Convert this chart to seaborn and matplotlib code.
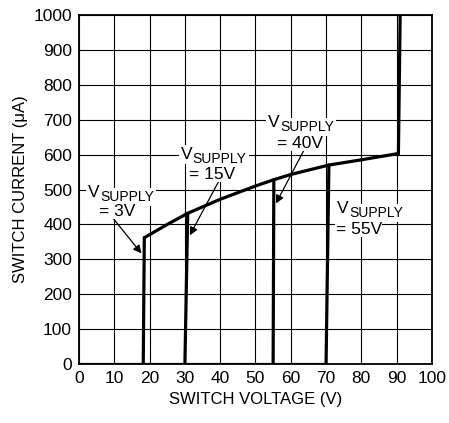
import matplotlib
matplotlib.use("Agg")
import matplotlib.pyplot as plt
import seaborn as sns

# ------------------------------------------------------------
# Data
# ------------------------------------------------------------
supply_labels = ["3V", "15V", "40V", "55V"]
step_x_bottom = [18.2, 30.0, 55.0, 70.0]
step_x_top = [18.5, 30.8, 55.2, 70.8]
step_y_top = [362, 432, 528, 570]

curve_x = [18.5, 25, 30.8, 40, 50, 55.2, 60, 70.8, 80, 90.5]
curve_y = [362, 400, 432, 472, 510, 528, 543, 570, 585, 603]

breakdown_x = [90.5, 91.0]
breakdown_y = [603, 1000]

floor_x = [0, 70.0]
floor_y = [0, 0]

x_ticks = list(range(0, 101, 10))
y_ticks = list(range(0, 1001, 100))

# ------------------------------------------------------------
# Style
# ------------------------------------------------------------
sns.set_theme(style="white")
plt.rcParams["font.family"] = ["Liberation Sans Narrow", "Liberation Sans", "DejaVu Sans"]

fig, ax = plt.subplots(figsize=(4.49, 4.23), dpi=100)
fig.subplots_adjust(left=0.176, right=0.962, top=0.965, bottom=0.139)

LW = 2.3
sns.lineplot(x=floor_x, y=floor_y, ax=ax, color="black", lw=LW, sort=False)
for xb, xt, yt in zip(step_x_bottom, step_x_top, step_y_top):
    sns.lineplot(x=[xb, xt], y=[0, yt], ax=ax, color="black", lw=LW, sort=False)
sns.lineplot(x=curve_x, y=curve_y, ax=ax, color="black", lw=LW, sort=False)
sns.lineplot(x=breakdown_x, y=breakdown_y, ax=ax, color="black", lw=LW, sort=False)

ax.set_xlim(0, 100)
ax.set_ylim(0, 1000)
ax.set_xticks(x_ticks)
ax.set_yticks(y_ticks)
ax.grid(True, color="black", lw=0.8)
ax.set_axisbelow(True)
for s in ax.spines.values():
    s.set_color("black")
    s.set_linewidth(1.3)
ax.tick_params(axis="both", labelsize=12.5, length=0, pad=5, colors="black")
ax.set_xlabel("SWITCH VOLTAGE (V)", fontsize=12, color="black", labelpad=4)
ax.set_ylabel("SWITCH CURRENT (\u03bcA)", fontsize=12, color="black", labelpad=4)

# ------------------------------------------------------------
# Annotations: "V" + subscript "SUPPLY", then "= xxV" below
# ------------------------------------------------------------
v_anchor = [(5.95, 478), (32.2, 587), (56.9, 679), (76.5, 433)]
line2_pos = [(10.8, 425), (37.7, 531), (62.6, 620), (79.3, 373)]
arrow_start = [(9.7, 417), (39.5, 522), (63.7, 612), None]
arrow_end = [(17.7, 317), (31.4, 369), (55.8, 460), None]

box = dict(facecolor="white", edgecolor="none", pad=1.5)
box2 = dict(facecolor="white", edgecolor="none", pad=0.2)
for lab, va_, l2, a0, a1 in zip(supply_labels, v_anchor, line2_pos, arrow_start, arrow_end):
    if a0 is not None:
        ax.annotate("", xy=a1, xytext=a0,
                    arrowprops=dict(arrowstyle="-|>", color="black", lw=0.9,
                                    mutation_scale=12, shrinkA=0, shrinkB=0))
    ax.text(va_[0], va_[1], "V", ha="right", va="baseline",
            fontsize=12.5, color="black", bbox=box, zorder=4)
    ax.annotate("SUPPLY", xy=va_, xytext=(0, -3), textcoords="offset points",
                ha="left", va="baseline", fontsize=10, color="black", bbox=box, zorder=4)
    ax.text(l2[0], l2[1], "= " + lab, ha="center", va="baseline",
            fontsize=12.5, color="black", bbox=box2, zorder=5)

plt.savefig("out.png", dpi=100)
